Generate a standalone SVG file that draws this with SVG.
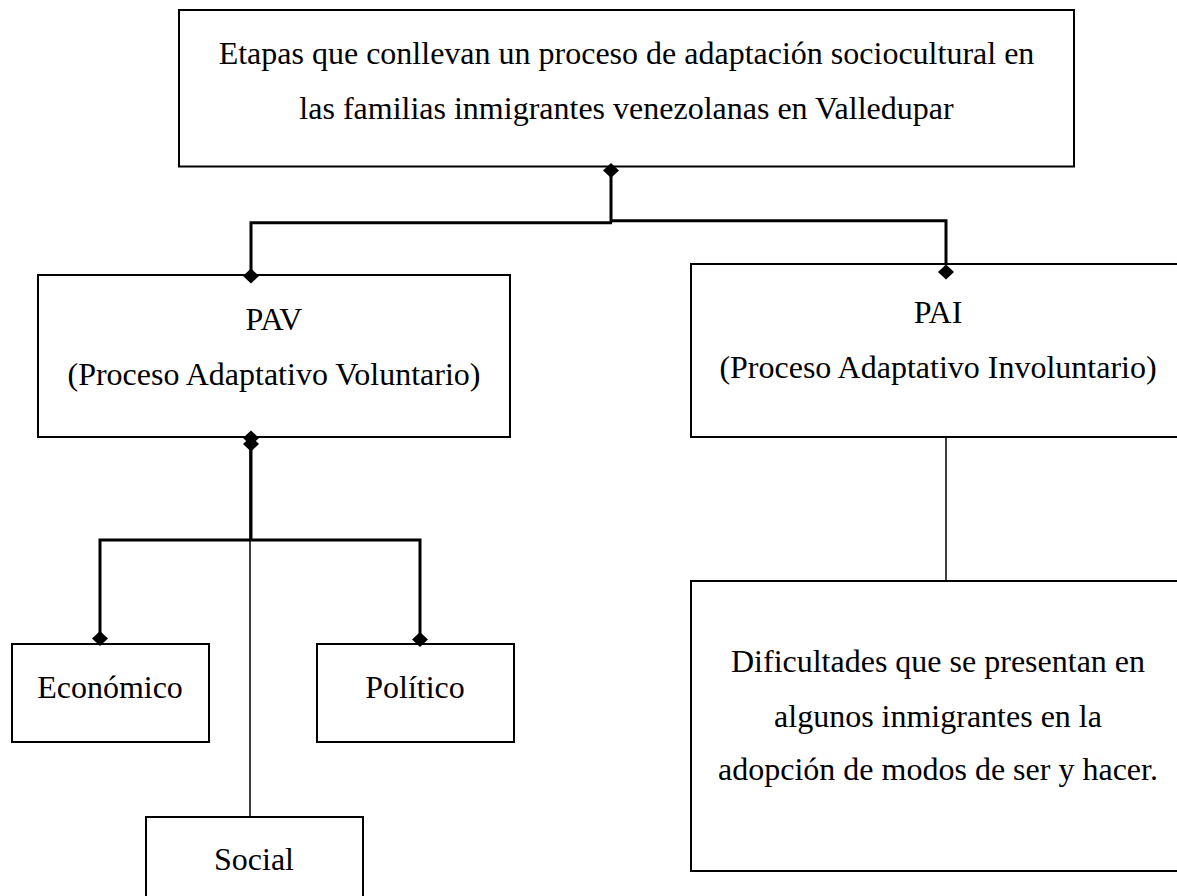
<svg xmlns="http://www.w3.org/2000/svg" xmlns:xlink="http://www.w3.org/1999/xlink" width="1177" height="896" viewBox="0 0 1177 896">
<style>
.box{fill:#fff;stroke:#000;stroke-width:2}
.t{font-family:"Liberation Serif","Times New Roman",serif;font-size:32px;fill:#000;text-anchor:middle}
.thick{fill:none;stroke:#000;stroke-width:3}
.thin{fill:none;stroke:#000;stroke-width:1.5}
</style>
<defs>
<path id="dia" d="M0,-7.5 L8,0 L0,7.5 L-8,0 Z" fill="#000"/>
</defs>
<rect width="1177" height="896" fill="#fff"/>
<g id="connectors">
<path class="thick" d="M611,167 V222.7"/>
<path class="thick" d="M612,222.7 H251 V275"/>
<path class="thick" d="M611,220.7 H946 V264"/>
<path class="thick" d="M251,437 V540"/>
<path class="thick" d="M100,644 V540 H420 V644"/>
<path class="thin" d="M250,437 V817"/>
<path class="thin" d="M946,437 V581"/>
</g>
<g id="n_title">
<rect class="box" x="179" y="10" width="895" height="156.5"/>
<text class="t" x="626.5" y="64">Etapas que conllevan un proceso de adaptación sociocultural en</text>
<text class="t" x="626.5" y="119">las familias inmigrantes venezolanas en Valledupar</text>
</g>
<g id="n_pav">
<rect class="box" x="38" y="275" width="472" height="162"/>
<text class="t" x="274" y="330">PAV</text>
<text class="t" x="274" y="385">(Proceso Adaptativo Voluntario)</text>
</g>
<g id="n_pai">
<rect class="box" x="691" y="264" width="500" height="173"/>
<text class="t" x="938" y="323">PAI</text>
<text class="t" x="938" y="378">(Proceso Adaptativo Involuntario)</text>
</g>
<g id="n_eco">
<rect class="box" x="12" y="644" width="197" height="98"/>
<text class="t" x="110" y="698">Económico</text>
</g>
<g id="n_pol">
<rect class="box" x="317" y="644" width="197" height="98"/>
<text class="t" x="415" y="698">Político</text>
</g>
<g id="n_social">
<rect class="box" x="146" y="817" width="217" height="100"/>
<text class="t" x="254" y="870">Social</text>
</g>
<g id="n_dif">
<rect class="box" x="691" y="581" width="500" height="290"/>
<text class="t" x="938" y="672">Dificultades que se presentan en</text>
<text class="t" x="938" y="727">algunos inmigrantes en la</text>
<text class="t" x="938" y="780">adopción de modos de ser y hacer.</text>
</g>
<g id="markers">
<use xlink:href="#dia" x="611" y="170.5"/>
<use xlink:href="#dia" x="251" y="276"/>
<use xlink:href="#dia" x="946" y="272"/>
<use xlink:href="#dia" x="251" y="438"/>
<use xlink:href="#dia" x="251" y="444"/>
<use xlink:href="#dia" x="100" y="638.5"/>
<use xlink:href="#dia" x="420" y="639.5"/>
</g>
</svg>
